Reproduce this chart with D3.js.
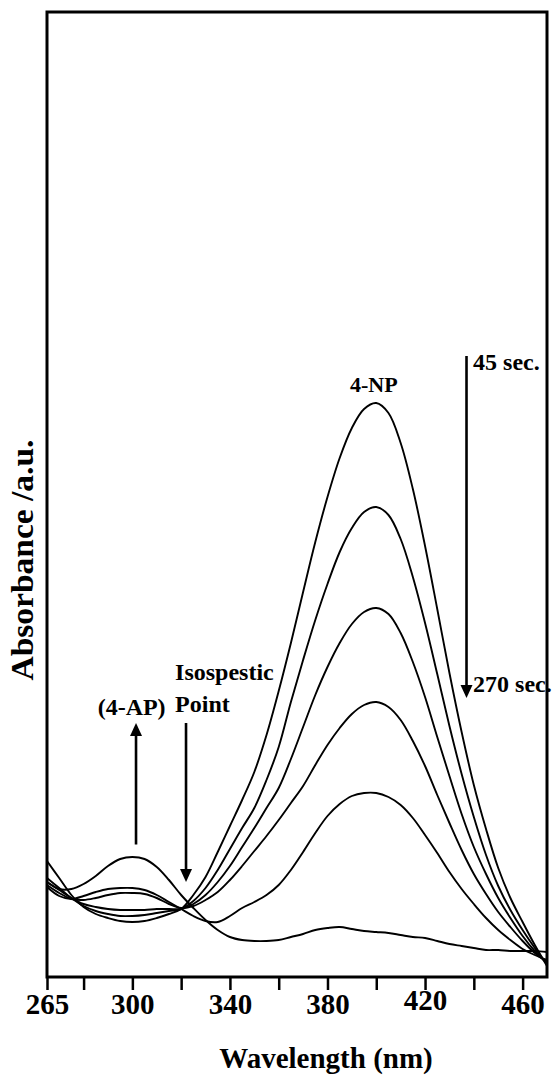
<!DOCTYPE html>
<html>
<head>
<meta charset="utf-8">
<script src="https://cdnjs.cloudflare.com/ajax/libs/d3/7.8.5/d3.min.js"></script>
<style>
  body { margin: 0; background: #fff; }
  svg text { font-family: "Liberation Serif", "Times New Roman", serif; font-weight: bold; fill: #000; }
</style>
</head>
<body>
<div id="chart"></div>
<script>
let width = 557,
    height = 1075,
    margin = ({ top: 12, right: 10, bottom: 98, left: 47 });

// wavelength grid (nm)
const wavelengths = [265, 270, 275, 280, 285, 290, 295, 300, 305, 310, 315, 320, 325, 330, 335, 340,
  345, 350, 355, 360, 365, 370, 375, 380, 385, 390, 395, 400, 405, 410, 415, 420, 425, 430, 435,
  440, 445, 450, 455, 460, 465, 470];

// absorbance, one array per scan (45 sec ... 270 sec)
const scan1 = [0.232, 0.198, 0.164, 0.140, 0.126, 0.118, 0.112, 0.110, 0.112, 0.118, 0.126, 0.136, 0.164, 0.200, 0.250, 0.302,
  0.354, 0.410, 0.484, 0.572, 0.668, 0.770, 0.870, 0.960, 1.038, 1.098, 1.136, 1.148, 1.128, 1.068, 0.976, 0.862, 0.736, 0.608, 0.490,
  0.384, 0.296, 0.218, 0.158, 0.110, 0.064, 0.022];
const scan2 = [0.198, 0.178, 0.158, 0.142, 0.132, 0.126, 0.122, 0.122, 0.124, 0.128, 0.132, 0.136, 0.152, 0.178, 0.214, 0.256,
  0.298, 0.338, 0.394, 0.460, 0.550, 0.634, 0.714, 0.786, 0.850, 0.898, 0.930, 0.940, 0.924, 0.876, 0.800, 0.708, 0.606, 0.502, 0.406,
  0.320, 0.244, 0.182, 0.134, 0.094, 0.058, 0.026];
const scan3 = [0.190, 0.174, 0.158, 0.146, 0.140, 0.136, 0.134, 0.134, 0.134, 0.136, 0.136, 0.136, 0.146, 0.164, 0.190, 0.222,
  0.260, 0.298, 0.338, 0.378, 0.436, 0.500, 0.564, 0.620, 0.668, 0.706, 0.730, 0.738, 0.726, 0.688, 0.630, 0.560, 0.480, 0.402, 0.326,
  0.260, 0.206, 0.158, 0.118, 0.082, 0.052, 0.028];
const scan4 = [0.184, 0.168, 0.156, 0.154, 0.158, 0.164, 0.168, 0.168, 0.166, 0.158, 0.146, 0.138, 0.142, 0.154, 0.170, 0.194,
  0.222, 0.252, 0.282, 0.314, 0.348, 0.382, 0.424, 0.464, 0.498, 0.526, 0.544, 0.550, 0.540, 0.514, 0.472, 0.422, 0.364, 0.308, 0.254,
  0.206, 0.166, 0.130, 0.100, 0.072, 0.048, 0.030];
const scan5 = [0.180, 0.162, 0.156, 0.162, 0.170, 0.176, 0.178, 0.178, 0.174, 0.164, 0.150, 0.136, 0.122, 0.112, 0.110, 0.122,
  0.138, 0.150, 0.164, 0.184, 0.214, 0.250, 0.288, 0.322, 0.346, 0.362, 0.368, 0.368, 0.360, 0.344, 0.318, 0.284, 0.248, 0.210, 0.176,
  0.146, 0.118, 0.094, 0.074, 0.056, 0.044, 0.034];
const scan6 = [0.190, 0.176, 0.176, 0.186, 0.202, 0.222, 0.236, 0.240, 0.236, 0.220, 0.194, 0.164, 0.138, 0.114, 0.094, 0.080,
  0.074, 0.072, 0.072, 0.074, 0.080, 0.086, 0.094, 0.098, 0.100, 0.096, 0.092, 0.090, 0.088, 0.084, 0.080, 0.078, 0.072, 0.066, 0.062,
  0.058, 0.054, 0.054, 0.052, 0.052, 0.052, 0.050];

const scans = [scan1, scan2, scan3, scan4, scan5, scan6];

const tickValues = [265, 280, 300, 320, 340, 360, 380, 400, 420, 440, 460];
const tickLabels = [265, 300, 340, 380, 420, 460];

// annotations: [label, wavelength, absorbance, anchor, size]
const notes = [
  ["4-NP", 399, 1.170, "middle", 22],
  ["45 sec.", 439.7, 1.214, "start", 24],
  ["270 sec.", 439.7, 0.570, "start", 24],
  ["Isospestic", 317.5, 0.594, "start", 24],
  ["Point", 317.5, 0.530, "start", 24],
  ["(4-AP)", 299.7, 0.524, "middle", 24]
];
// arrows: [wavelength, from absorbance, to absorbance (tip)]
const arrows = [
  [301.5, 0.265, 0.508],
  [322, 0.508, 0.190],
  [437, 1.242, 0.558]
];

const svg = d3.select("#chart")
  .append("svg")
  .attr("width", width)
  .attr("height", height);

let x = d3.scaleLinear()
  .domain([265, 470])
  .range([margin.left, width - margin.right]);

let y = d3.scaleLinear()
  .domain([0, 1.93])
  .range([height - margin.bottom, margin.top]);

const line = d3.line()
  .x((d, i) => x(wavelengths[i]))
  .y(d => y(d))
  .curve(d3.curveCatmullRom);

svg.append("g")
  .selectAll("path")
  .data(scans)
  .join("path")
  .attr("d", d => line(d))
  .attr("fill", "none")
  .attr("stroke", "#000")
  .attr("stroke-width", 1.9);

// frame
svg.append("rect")
  .attr("x", margin.left)
  .attr("y", margin.top)
  .attr("width", width - margin.left - margin.right)
  .attr("height", height - margin.top - margin.bottom)
  .attr("fill", "none")
  .attr("stroke", "#000")
  .attr("stroke-width", 3);

// x axis
const xAxis = svg.append("g")
  .attr("transform", `translate(0,${height - margin.bottom})`)
  .call(d3.axisBottom(x)
    .tickValues(tickValues)
    .tickSize(13)
    .tickPadding(2)
    .tickFormat(d => tickLabels.includes(d) ? d : ""));

xAxis.select(".domain").remove();
xAxis.selectAll(".tick line").attr("stroke", "#000").attr("stroke-width", 2.5);
xAxis.selectAll(".tick text")
  .attr("font-family", "Liberation Serif, serif")
  .attr("font-weight", "bold")
  .attr("font-size", 29)
  .attr("fill", "#000")
  .attr("dy", d => d === 420 ? "0.62em" : "0.76em");

svg.append("text")
  .attr("x", 326)
  .attr("y", 1068)
  .attr("text-anchor", "middle")
  .attr("font-size", 29)
  .text("Wavelength (nm)");

svg.append("text")
  .attr("transform", "translate(33,560) rotate(-90)")
  .attr("text-anchor", "middle")
  .attr("font-size", 31)
  .attr("textLength", 241)
  .attr("lengthAdjust", "spacingAndGlyphs")
  .text("Absorbance /a.u.");

// annotations
svg.append("g")
  .selectAll("text")
  .data(notes)
  .join("text")
  .attr("x", d => x(d[1]))
  .attr("y", d => y(d[2]))
  .attr("text-anchor", d => d[3])
  .attr("font-size", d => d[4])
  .text(d => d[0]);

const arrowG = svg.append("g");
arrows.forEach(a => {
  let ax = x(a[0]), y0 = y(a[1]), y1 = y(a[2]);
  let dir = y1 < y0 ? 1 : -1;
  arrowG.append("line")
    .attr("x1", ax).attr("x2", ax)
    .attr("y1", y0).attr("y2", y1 + dir * 10)
    .attr("stroke", "#000")
    .attr("stroke-width", 2.6);
  arrowG.append("path")
    .attr("d", `M${ax},${y1} L${ax - 6},${y1 + dir * 13} L${ax + 6},${y1 + dir * 13} Z`)
    .attr("fill", "#000");
});
</script>
</body>
</html>
